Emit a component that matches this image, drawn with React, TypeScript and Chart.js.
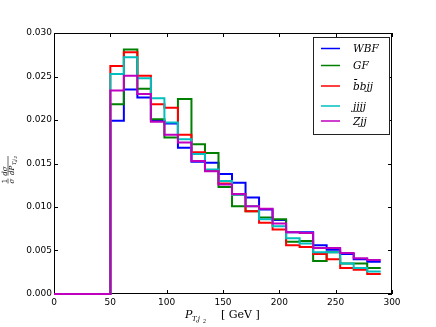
import React, { useEffect, useRef } from "react";
import { Chart, registerables } from "chart.js";

Chart.register(...registerables);

const EDGES = [50, 62, 74, 86, 98, 110, 122, 134, 146, 158, 170, 182, 194, 206, 218, 230, 242, 254, 266, 278, 290];

const WBF = [0.0199, 0.0235, 0.0226, 0.0199, 0.0196, 0.0168, 0.0152, 0.0151, 0.0138, 0.0128, 0.0111, 0.0097, 0.0085, 0.0071, 0.0071, 0.0056, 0.0051, 0.0046, 0.0040, 0.0037];
const GF = [0.0218, 0.0281, 0.0236, 0.0201, 0.0180, 0.0224, 0.0172, 0.0162, 0.0123, 0.0101, 0.0095, 0.0088, 0.0086, 0.0060, 0.0061, 0.0038, 0.0048, 0.0035, 0.0035, 0.0030];
const BBJJ = [0.0262, 0.0278, 0.0251, 0.0218, 0.0214, 0.0183, 0.0163, 0.0142, 0.0127, 0.0114, 0.0095, 0.0082, 0.0074, 0.0056, 0.0054, 0.0046, 0.0040, 0.0030, 0.0028, 0.0023];
const JJJJ = [0.0253, 0.0272, 0.0248, 0.0225, 0.0197, 0.0178, 0.0161, 0.0143, 0.0130, 0.0114, 0.0101, 0.0086, 0.0078, 0.0064, 0.0058, 0.0048, 0.0048, 0.0035, 0.0030, 0.0026];
const ZJJ = [0.0234, 0.0251, 0.0230, 0.0198, 0.0183, 0.0174, 0.0153, 0.0141, 0.0126, 0.0115, 0.0101, 0.0098, 0.0081, 0.0071, 0.0070, 0.0053, 0.0053, 0.0047, 0.0041, 0.0039];

const SERIES_LABELS = ["WBF", "GF", "b\u0304bjj", "jjjj", "Zjj"];
const SERIES_COLORS = ["#0000ff", "#008000", "#ff0000", "#00bfbf", "#bf00bf"];
const SERIES_VALUES = [WBF, GF, BBJJ, JJJJ, ZJJ];

const X_TICKS = [0, 50, 100, 150, 200, 250, 300];
const Y_TICKS = [0, 0.005, 0.01, 0.015, 0.02, 0.025, 0.03];

function stepPoints(vals: number[]) {
  const pts: { x: number; y: number }[] = [{ x: 0, y: 0 }, { x: EDGES[0], y: 0 }];
  for (let i = 0; i < vals.length; i++) {
    pts.push({ x: EDGES[i], y: vals[i] });
    pts.push({ x: EDGES[i + 1], y: vals[i] });
  }
  return pts;
}

const framePlugin = {
  id: "mplFrame",
  beforeDatasetsDraw(chart: any) {
    const { ctx, chartArea: a, scales } = chart;
    ctx.save();
    ctx.strokeStyle = "#000";
    ctx.lineWidth = 1;
    ctx.strokeRect(a.left + 0.5, a.top + 0.5, a.right - a.left - 1, a.bottom - a.top - 1);
    ctx.beginPath();
    for (const v of X_TICKS) {
      const x = Math.round(scales.x.getPixelForValue(v)) + 0.5;
      ctx.moveTo(x, a.bottom);
      ctx.lineTo(x, a.bottom - 4);
      ctx.moveTo(x, a.top);
      ctx.lineTo(x, a.top + 4);
    }
    for (const v of Y_TICKS) {
      const y = Math.round(scales.y.getPixelForValue(v)) + 0.5;
      ctx.moveTo(a.left, y);
      ctx.lineTo(a.left + 4, y);
      ctx.moveTo(a.right, y);
      ctx.lineTo(a.right - 4, y);
    }
    ctx.stroke();
    ctx.restore();
  },
  afterDraw(chart: any) {
    const { ctx } = chart;
    ctx.save();
    // Legend
    const bx = 313.5, by = 37.5, bw = 76, bh = 97;
    ctx.fillStyle = "#fff";
    ctx.fillRect(bx, by, bw, bh);
    ctx.strokeStyle = "#222";
    ctx.lineWidth = 1;
    ctx.strokeRect(bx, by, bw, bh);
    const ys = [48.5, 65.5, 86, 106, 121];
    ctx.font = "italic 10.5px 'DejaVu Serif'";
    ctx.textBaseline = "middle";
    ctx.textAlign = "left";
    for (let i = 0; i < SERIES_LABELS.length; i++) {
      ctx.strokeStyle = SERIES_COLORS[i];
      ctx.lineWidth = 1.5;
      ctx.beginPath();
      ctx.moveTo(321, ys[i]);
      ctx.lineTo(340, ys[i]);
      ctx.stroke();
      ctx.fillStyle = "#000";
      ctx.fillText(SERIES_LABELS[i], 353, ys[i] + 1);
    }
    // X axis title
    ctx.textBaseline = "alphabetic";
    ctx.font = "italic 11px 'DejaVu Serif'";
    ctx.fillText("P", 185, 318);
    ctx.font = "italic 7px 'DejaVu Serif'";
    ctx.fillText("T,j", 192, 321);
    ctx.font = "italic 5px 'DejaVu Serif'";
    ctx.fillText("2", 203, 323);
    ctx.font = "11px 'DejaVu Serif'";
    ctx.fillText("[ GeV ]", 221, 318);
    // Y axis title (rotated)
    ctx.translate(8, 168);
    ctx.rotate(-Math.PI / 2);
    ctx.textAlign = "center";
    ctx.font = "7px 'DejaVu Serif'";
    ctx.fillText("1", -13, -1.5);
    ctx.font = "italic 7px 'DejaVu Serif'";
    ctx.fillText("\u03c3", -13, 6);
    ctx.fillText("d\u03c3", -3, -1.5);
    ctx.textAlign = "left";
    ctx.fillText("dP", -7, 6);
    ctx.font = "italic 5px 'DejaVu Serif'";
    ctx.fillText("T,j", 3, 7.5);
    ctx.font = "italic 4px 'DejaVu Serif'";
    ctx.fillText("2", 9.5, 8.5);
    ctx.strokeStyle = "#000";
    ctx.lineWidth = 0.6;
    ctx.beginPath();
    ctx.moveTo(-15.5, 0);
    ctx.lineTo(-10.5, 0);
    ctx.moveTo(-7.5, 0);
    ctx.lineTo(12, 0);
    ctx.stroke();
    ctx.restore();
  },
};

export default function App() {
  const ref = useRef<HTMLCanvasElement | null>(null);
  useEffect(() => {
    if (!ref.current) return;
    // Chart.js paints dataset 0 last (on top); reverse so Zjj ends up on top like the reference.
    const datasets = SERIES_VALUES.map((vals, i) => ({
      label: SERIES_LABELS[i],
      data: stepPoints(vals),
      showLine: true,
      borderColor: SERIES_COLORS[i],
      backgroundColor: SERIES_COLORS[i],
      borderWidth: 2,
      pointRadius: 0,
      tension: 0,
      clip: false,
    })).reverse();
    const chart = new Chart(ref.current, {
      type: "scatter",
      data: { datasets } as any,
      options: {
        animation: false,
        responsive: false,
        maintainAspectRatio: false,
        layout: { padding: { left: 0, right: 44, top: 33, bottom: 0 } },
        plugins: { legend: { display: false }, tooltip: { enabled: false } },
        scales: {
          x: {
            type: "linear",
            min: 0,
            max: 300,
            grid: { display: false, drawTicks: false },
            border: { display: false },
            ticks: {
              stepSize: 50,
              color: "#000",
              padding: 3,
              maxRotation: 0,
              font: { family: "'DejaVu Sans'", size: 9 },
            },
            afterFit: (s: any) => {
              s.height = 33;
            },
          },
          y: {
            type: "linear",
            min: 0,
            max: 0.03,
            grid: { display: false, drawTicks: false },
            border: { display: false },
            ticks: {
              stepSize: 0.005,
              color: "#000",
              padding: 2,
              font: { family: "'DejaVu Sans'", size: 9 },
              callback: (v: any) => Number(v).toFixed(3),
            },
            afterFit: (s: any) => {
              s.width = 54;
            },
          },
        },
      } as any,
      plugins: [framePlugin],
    });
    return () => chart.destroy();
  }, []);
  return (
    <div style={{ position: "absolute", left: 0, top: 0, width: 436, height: 327, background: "#fff" }}>
      <canvas ref={ref} width={436} height={327} style={{ width: 436, height: 327 }} />
    </div>
  );
}
